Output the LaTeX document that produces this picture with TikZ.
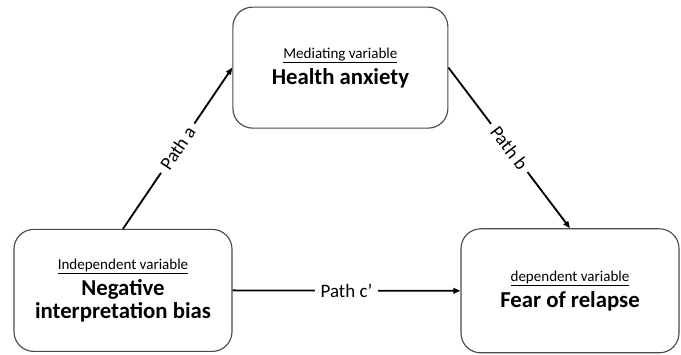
\documentclass[tikz,border=0pt]{standalone}
\usepackage{fontspec}
\setmainfont{Carlito}
\usetikzlibrary{arrows.meta,positioning}
\definecolor{BoxGray}{HTML}{4A4A4A}

\newcommand{\vartype}[1]{{\normalfont\fontsize{10.7}{12}\selectfont\underline{#1}}}

\begin{document}
\begin{tikzpicture}[
    varbox/.style={draw=BoxGray, rounded corners=14pt, fill=white, line width=0.8pt, minimum width=5.45cm, minimum height=3.05cm, align=center, inner sep=4pt, font=\fontsize{16.2}{16.5}\selectfont\bfseries},
    arrowpath/.style={-{Triangle[length=5pt,width=4pt]}, line width=1.3pt, black},
    pathlbl/.style={fill=white, font=\fontsize{13.5}{15}\selectfont, inner sep=4pt}
]

  % Fundo
  \useasboundingbox[fill=white] (0,0) rectangle (17.025,-8.85);

  % =========================================================================
  % CAIXAS DAS VARIAVEIS
  % =========================================================================
  \node[varbox] (indep) at (3.075, -7.26) {
    \vartype{Independent variable}\\[2pt]
    Negative\\interpretation bias
  };

  \node[varbox, minimum width=5.375cm, minimum height=3.025cm] (medi) at (8.51, -1.69) {
    \vartype{Mediating variable}\\[2pt]
    Health anxiety
  };

  \node[varbox, minimum height=3.1cm] (dep) at (14.25, -7.27) {
    \vartype{dependent variable}\\[2pt]
    Fear of relapse
  };

  % =========================================================================
  % CAMINHOS
  % =========================================================================
  \draw[arrowpath] (indep.north) -- node[pathlbl, sloped] {Path a} (medi.west);
  \draw[arrowpath] (medi.east) -- node[pathlbl, sloped] {Path b} (dep.north);
  \draw[arrowpath] (indep.east) -- node[pathlbl] {Path c’} (dep.west);

\end{tikzpicture}
\end{document}
